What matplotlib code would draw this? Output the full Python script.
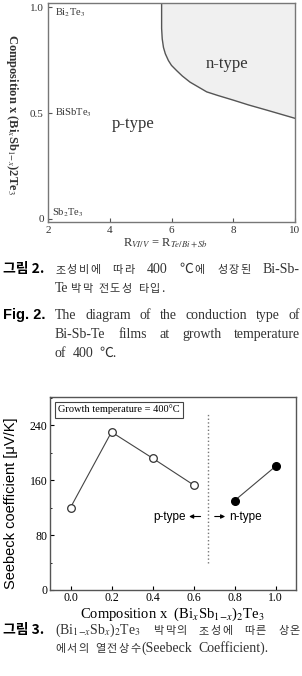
import numpy as np
import matplotlib.pyplot as plt
from matplotlib.ticker import MultipleLocator

plt.rcParams['mathtext.fontset'] = 'stix'
SERIF = ['Liberation Serif', 'Noto Sans CJK KR', 'DejaVu Sans']
SANS = ['Liberation Sans', 'Noto Sans CJK KR', 'DejaVu Sans']
KOR = ['Noto Sans CJK KR', 'DejaVu Sans']
plt.rcParams['font.family'] = SERIF

W, H = 302, 676

# Fig. 2: n/p boundary
bound_r = [5.68, 5.68, 5.70, 5.74, 5.80, 5.90, 6.00, 6.17, 6.35, 6.60, 7.14, 7.50, 8.00, 8.50, 9.08, 10.0]
bound_x = [1.02, 0.90, 0.85, 0.81, 0.78, 0.748, 0.725, 0.70, 0.675, 0.646, 0.60, 0.583, 0.561, 0.538, 0.514, 0.475]
comp_ticks = [0, 0.5, 1.0]
comp_labels = ['0', '0.5', '1.0']
ratio_ticks = [2, 4, 6, 8, 10]

# Fig. 3: Seebeck coefficient
p_x = [0.0, 0.2, 0.4, 0.6]
p_s = [120, 230, 192, 153]
n_x = [0.8, 1.0]
n_s = [130, 180]
type_edge = 0.67
comp_x_ticks = [0.0, 0.2, 0.4, 0.6, 0.8, 1.0]
seebeck_ticks = [0, 80, 160, 240]

TXT = '#333333'
KSIZE, ESIZE = 8.0, 10.0


def fx(px):
    return px / W


def fy(py):
    return 1 - py / H


fig = plt.figure(figsize=(W / 100, H / 100), dpi=100)


def is_kor(ch):
    return '\uac00' <= ch <= '\ud7a3'


def segments(word):
    segs = []
    for ch in word:
        if is_kor(ch):
            segs.append([ch, True])
        elif segs and not segs[-1][1]:
            segs[-1][0] += ch
        else:
            segs.append([ch, False])
    return segs


def caption_line(text, x0, y, x1=None, sp=6.0, tr=1.5):
    # korean glyphs a bit smaller and tracked, words spread to x1 if given
    r = fig.canvas.get_renderer()
    words = []
    for w in text.split(' '):
        arts = []
        for s, k in segments(w):
            t = fig.text(0, fy(y), s, va='baseline', color=TXT,
                         fontsize=KSIZE if k else ESIZE, family=KOR if k else SERIF)
            arts.append((t, t.get_window_extent(r).width))
        words.append(arts)
    widths = [sum(a[1] for a in arts) + tr * (len(arts) - 1) for arts in words]
    if x1 is not None:
        sp = (x1 - x0 - sum(widths)) / (len(words) - 1)
    x = x0
    for arts in words:
        for t, w in arts:
            t.set_x(fx(x))
            x += w + tr
        x += sp - tr


# ---- top chart ----
ax1 = fig.add_axes([fx(48), fy(222), 247 / W, 219 / H])
ax1.fill_betweenx(bound_x, bound_r, 10, color='#f0f0f0', lw=0)
ax1.plot(bound_r, bound_x, color='#555555', lw=1.0)
ax1.set_xlim(2, 10)
ax1.set_ylim(-0.015, 1.02)
ax1.set_xticks(ratio_ticks)
ax1.set_yticks(comp_ticks)
ax1.set_yticklabels(comp_labels)
ax1.tick_params(direction='in', length=3, labelsize=8, pad=3, color='#555555', labelcolor=TXT)
for s in ax1.spines.values():
    s.set_color('#777777')
    s.set_linewidth(1.0)
ax1.text(2.23, 0.976, r'Bi$_2$Te$_3$', fontsize=7.5, va='center', color=TXT)
ax1.text(2.23, 0.5, r'BiSbTe$_3$', fontsize=7.5, va='center', color=TXT)
ax1.text(2.13, 0.028, r'Sb$_2$Te$_3$', fontsize=7.5, va='center', color=TXT)
ax1.text(4.75, 0.45, 'p-type', fontsize=12, ha='center', va='center', color=TXT)
ax1.text(7.8, 0.73, 'n-type', fontsize=12, ha='center', va='center', color=TXT)
fig.text(fx(12), fy(114), r'Composition x (Bi$_x$Sb$_{1\!-\!x}$)2Te$_3$', rotation=-90,
         ha='center', va='center', fontsize=9, weight='bold', color=TXT)
fig.text(fx(166), fy(243), r'R$_{VI/V}$ = R$_{Te/Bi+Sb}$', ha='center', va='center',
         fontsize=9, color=TXT)

# caption Fig. 2
fig.text(fx(3), fy(273), '그림 2.', va='baseline', fontsize=10, family=KOR, weight='bold')
caption_line('조성비에 따라 400 ℃에 성장된 Bi-Sb-', 55, 273, x1=300)
caption_line('Te박막 전도성 타입.', 55, 292)
fig.text(fx(3), fy(319), 'Fig. 2.', va='baseline', fontsize=10.5, family=SANS, weight='bold')
caption_line('The diagram of the conduction type of', 55, 319, x1=300)
caption_line('Bi-Sb-Te films at growth temperature', 55, 338, x1=300)
caption_line('of 400 ℃.', 55, 357)

# ---- bottom chart ----
ax2 = fig.add_axes([fx(50), fy(590), 246 / W, 193 / H])
ax2.plot(p_x, p_s, '-o', color='#444444', lw=0.8, ms=5.5, mfc='white', mec='#333333', mew=0.9)
ax2.plot(n_x, n_s, '-o', color='#444444', lw=0.8, ms=5.5, mfc='black', mec='black')
ax2.plot([type_edge, type_edge], [39, 257], ls=':', color='#777777', lw=1.0)
ax2.annotate('', xy=(0.565, 107), xytext=(0.648, 107),
             arrowprops=dict(arrowstyle='-|>', color='black', lw=0.8, mutation_scale=6))
ax2.annotate('', xy=(0.768, 107), xytext=(0.690, 107),
             arrowprops=dict(arrowstyle='-|>', color='black', lw=0.8, mutation_scale=6))
ax2.text(0.562, 107, 'p-type', ha='right', va='center', fontsize=8.5, family=SANS)
ax2.text(0.773, 107, 'n-type', ha='left', va='center', fontsize=8.5, family=SANS)
ax2.text(0.034, 0.935, 'Growth temperature = 400°C', transform=ax2.transAxes, fontsize=7.5,
         va='center', bbox=dict(boxstyle='square,pad=0.3', fc='white', ec='#444444', lw=0.8))
ax2.set_xlim(-0.1, 1.1)
ax2.set_ylim(0, 281)
ax2.set_xticks(comp_x_ticks)
ax2.set_xticklabels(['%.1f' % v for v in comp_x_ticks])
ax2.set_yticks(seebeck_ticks)
ax2.yaxis.set_minor_locator(MultipleLocator(40))
ax2.tick_params(direction='in', length=3, labelsize=8.5, pad=2)
ax2.tick_params(axis='x', pad=1.5)
ax2.tick_params(which='minor', direction='in', length=1.5)
for s in ax2.spines.values():
    s.set_color('#555555')
    s.set_linewidth(1.0)
fig.text(fx(11), fy(503), 'Seebeck coefficient [μV/K]', rotation=90, ha='center', va='center',
         fontsize=10.5, family=SANS)
fig.text(fx(172), fy(618), r'Composition x  (Bi$_x$Sb$_{1\!-\!x}$)$_2$Te$_3$', ha='center',
         va='baseline', fontsize=10.5)

# caption Fig. 3
fig.text(fx(3), fy(634), '그림 3.', va='baseline', fontsize=10, family=KOR, weight='bold')
caption_line(r'(Bi$_{1\!-\!x}$Sb$_x$)$_2$Te$_3$ 박막의 조성에 따른 상온', 55, 634, x1=300)
caption_line('에서의 열전상수(Seebeck Coefficient).', 55, 652)

fig.savefig('out.png', dpi=100)
